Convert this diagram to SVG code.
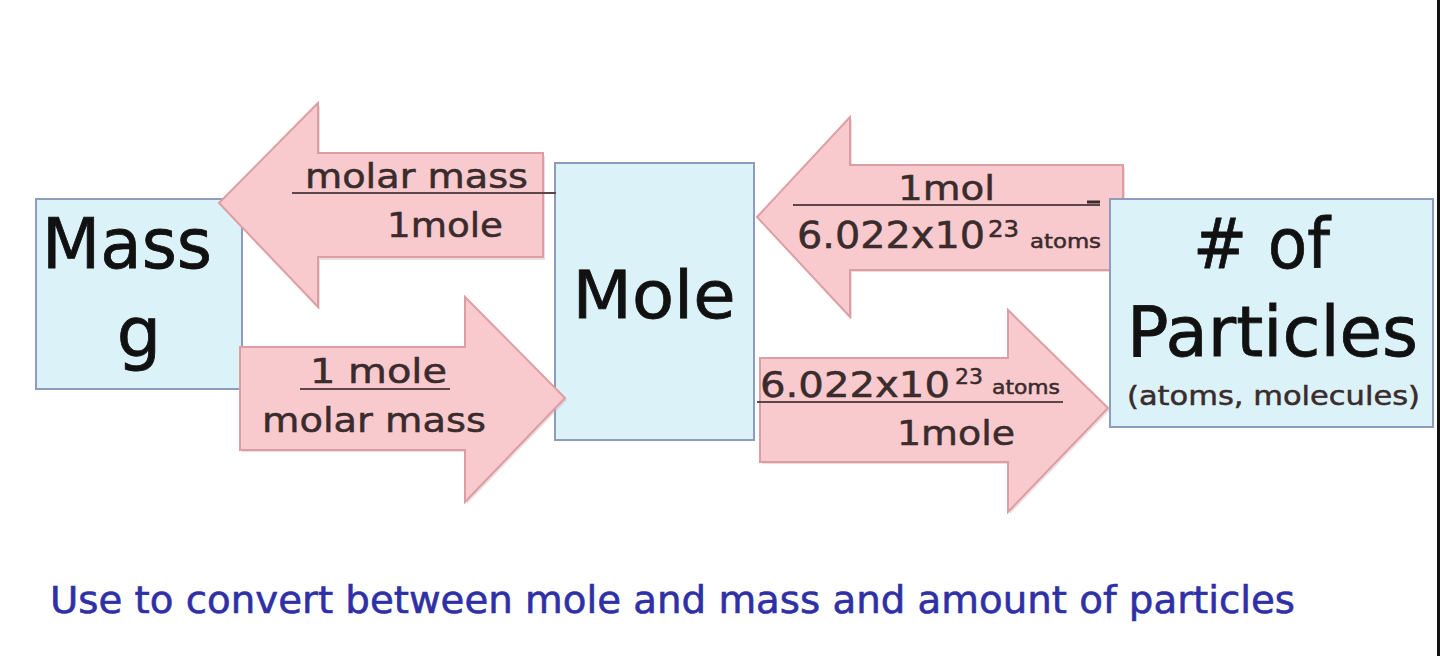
<svg xmlns="http://www.w3.org/2000/svg" width="1440" height="656" viewBox="0 0 1440 656">
<style>
.box{fill:#dbf2f9;stroke:#8d9bbd;stroke-width:2}
.arr{fill:#f8c9cd;stroke:#dc9ea3;stroke-width:2;stroke-linejoin:miter}
.sh{fill:#c9a0a3;opacity:0.35}
.big{font-family:"DejaVu Sans",sans-serif;fill:#111;stroke:#111;stroke-width:0.8}
.lbl{font-family:"DejaVu Sans",sans-serif;fill:#3a2b2c;stroke:#3a2b2c;stroke-width:0.5}
.bar{stroke:#5b4648;stroke-width:2}
</style>
<rect width="1440" height="656" fill="#ffffff"/>
<g id="mass">
<rect class="box" x="36" y="199" width="206" height="190"/>
<text class="big" x="42" y="268" font-size="70" textLength="170" lengthAdjust="spacingAndGlyphs">Mass</text>
<text class="big" x="139" y="357" font-size="70" text-anchor="middle">g</text>
</g>
<g id="mole">
<rect class="box" x="555" y="163" width="199" height="277"/>
<text class="big" x="654" y="318" font-size="66" text-anchor="middle" textLength="163" lengthAdjust="spacingAndGlyphs">Mole</text>
</g>
<g id="connectors">
<g id="arrow-mass-from-mole">
<polygon class="sh" points="222,205 320,106 320,156 545,156 545,260 320,260 320,310"/>
<polygon class="arr" points="219,203 318,103 318,153 543,153 543,257 318,257 318,307"/>
<text class="lbl" x="305" y="188" font-size="33" textLength="223" lengthAdjust="spacingAndGlyphs">molar mass</text>
<line class="bar" x1="292" y1="193" x2="556" y2="193"/>
<text class="lbl" x="387" y="237" font-size="33" textLength="116" lengthAdjust="spacingAndGlyphs">1mole</text>
</g>
<g id="arrow-mass-to-mole">
<polygon class="sh" points="242,349 467,349 467,299 567,400 467,504 467,452 242,452"/>
<polygon class="arr" points="240,347 465,347 465,297 565,398 465,502 465,450 240,450"/>
<text class="lbl" x="310" y="383" font-size="33" textLength="137" lengthAdjust="spacingAndGlyphs">1 mole</text>
<line class="bar" x1="300" y1="389" x2="450" y2="389"/>
<text class="lbl" x="262" y="432" font-size="33" textLength="224" lengthAdjust="spacingAndGlyphs">molar mass</text>
</g>
<g id="arrow-mole-from-particles">
<polygon class="sh" points="759,219 852,119 852,167 1125,167 1125,272 852,272 852,319"/>
<polygon class="arr" points="757,217 850,117 850,165 1123,165 1123,270 850,270 850,317"/>
<text class="lbl" x="898" y="200" font-size="33" textLength="97" lengthAdjust="spacingAndGlyphs">1mol</text>
<line class="bar" x1="793" y1="205" x2="1100" y2="205"/>
<line x1="1087" y1="202" x2="1100" y2="202" stroke="#3a2b2c" stroke-width="3"/>
<text class="lbl" x="797" y="248" font-size="37" textLength="188" lengthAdjust="spacingAndGlyphs">6.022x10</text>
<text class="lbl" x="988" y="237" font-size="23" textLength="31" lengthAdjust="spacingAndGlyphs">23</text>
<text class="lbl" x="1030" y="248" font-size="19" textLength="71" lengthAdjust="spacingAndGlyphs">atoms</text>
</g>
<g id="arrow-mole-to-particles">
<polygon class="sh" points="762,360 1010,360 1010,312 1110,410 1010,514 1010,464 762,464"/>
<polygon class="arr" points="760,358 1008,358 1008,310 1108,408 1008,512 1008,462 760,462"/>
<text class="lbl" x="760" y="397" font-size="35" textLength="190" lengthAdjust="spacingAndGlyphs">6.022x10</text>
<text class="lbl" x="955" y="384" font-size="22" textLength="28" lengthAdjust="spacingAndGlyphs">23</text>
<text class="lbl" x="992" y="394" font-size="19" textLength="68" lengthAdjust="spacingAndGlyphs">atoms</text>
<line class="bar" x1="757" y1="402" x2="1063" y2="402"/>
<text class="lbl" x="897" y="445" font-size="33" textLength="118" lengthAdjust="spacingAndGlyphs">1mole</text>
</g>
</g>
<g id="particles">
<rect class="box" x="1110" y="199" width="323" height="228"/>
<text class="big" x="1193" y="268" font-size="70" textLength="137" lengthAdjust="spacingAndGlyphs"># of</text>
<text class="big" x="1127" y="356" font-size="69" textLength="291" lengthAdjust="spacingAndGlyphs">Particles</text>
<text class="lbl" x="1127" y="405" font-size="27" textLength="293" lengthAdjust="spacingAndGlyphs">(atoms, molecules)</text>
</g>
<line x1="1438.5" y1="0" x2="1438.5" y2="656" stroke="#111" stroke-width="3"/>
<text x="50" y="613" font-family="DejaVu Sans,sans-serif" font-size="37" fill="#2f2fa6" stroke="#2f2fa6" stroke-width="0.6" textLength="1245" lengthAdjust="spacingAndGlyphs">Use to convert between mole and mass and amount of particles</text>
</svg>
